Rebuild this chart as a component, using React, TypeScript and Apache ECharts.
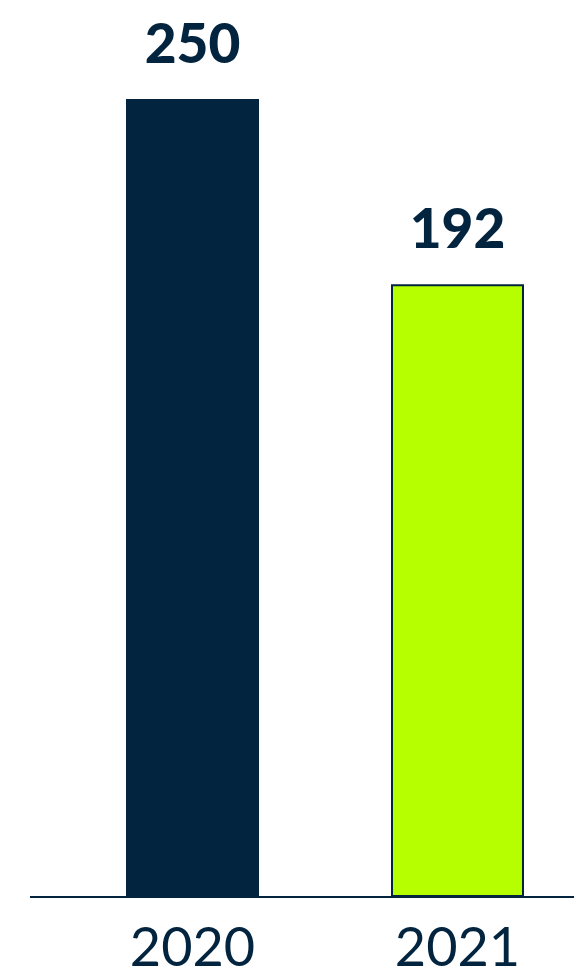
import React, { useEffect, useRef } from "react";
import * as echarts from "echarts";

const categories = ["2020", "2021"];
const values = [250, 192];
const barColors = ["#02243f", "#b6ff00"];

export default function App() {
  const ref = useRef<HTMLDivElement>(null);
  useEffect(() => {
    const chart = echarts.init(ref.current!, null, { renderer: "svg" });
    const navy = "#02243f";
    chart.setOption({
      animation: false,
      grid: {
        left: 60,
        width: 530,
        top: 99,
        height: 798,
        containLabel: false,
        outerBoundsMode: "none",
      },
      xAxis: {
        type: "category",
        data: categories,
        axisLine: { show: false },
        axisTick: { show: false },
        axisLabel: {
          color: navy,
          fontFamily: "Lato",
          fontSize: 54,
          lineHeight: 40,
          fontWeight: 400,
          margin: 28,
        },
      },
      yAxis: {
        type: "value",
        min: 0,
        max: 250,
        show: false,
        splitLine: { show: false },
      },
      graphic: [
        {
          type: "line",
          shape: { x1: 30, y1: 897, x2: 574, y2: 897 },
          style: { stroke: navy, lineWidth: 2 },
          z: 10,
        },
      ],
      series: [
        {
          type: "bar",
          barWidth: 133,
          data: values.map((v, i) => ({
            value: v,
            itemStyle: {
              color: barColors[i],
              borderColor: navy,
              borderWidth: i === 1 ? 2 : 0,
            },
          })),
          label: {
            show: true,
            position: "top",
            distance: 30,
            color: navy,
            fontFamily: "Lato",
            fontWeight: 900,
            fontSize: 55,
          },
        },
      ],
    });
    return () => chart.dispose();
  }, []);
  return (
    <div
      ref={ref}
      style={{ position: "fixed", left: 0, top: 0, width: 574, height: 968 }}
    />
  );
}
